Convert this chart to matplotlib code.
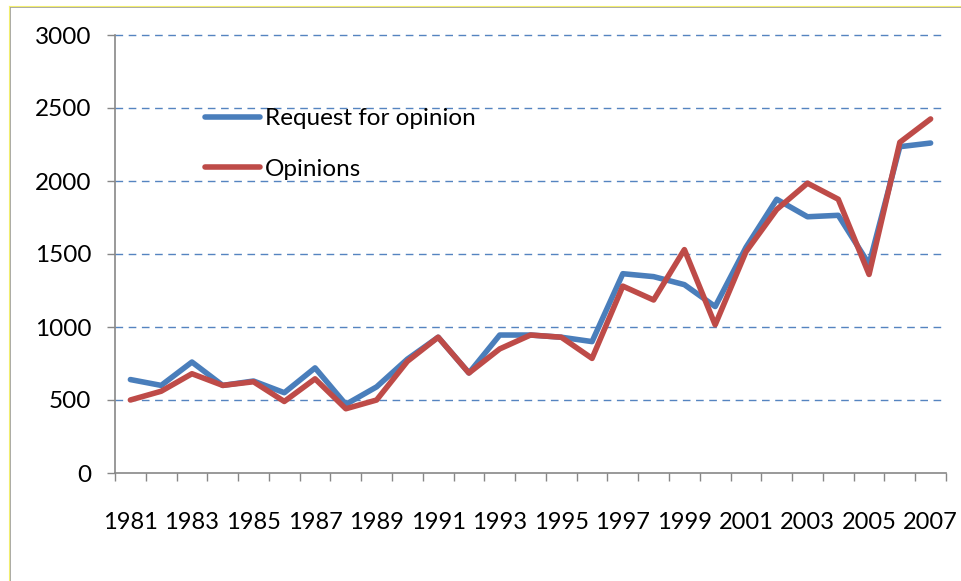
import numpy as np
import matplotlib.pyplot as plt
from matplotlib.lines import Line2D

years = list(range(1981, 2008))
request = [640, 600, 760, 600, 630, 550, 720, 470, 590, 780, 930, 685, 945, 945, 930, 900,
           1365, 1345, 1290, 1140, 1545, 1875, 1755, 1765, 1430, 2235, 2260]
opinions = [500, 560, 680, 600, 625, 490, 645, 440, 500, 765, 930, 685, 850, 945, 930, 785,
            1280, 1185, 1530, 1015, 1515, 1805, 1985, 1875, 1360, 2265, 2425]
yticks = [0, 500, 1000, 1500, 2000, 2500, 3000]

plt.rcParams['font.family'] = ['Lato', 'DejaVu Sans']

fig = plt.figure(figsize=(9.62, 5.81), dpi=100)
ax = fig.add_axes([115/962, 1 - 473/581, (946 - 115)/962, (473 - 35)/581])

x = np.arange(len(years))
ax.plot(x, request, color='#4a7ebb', lw=4, solid_capstyle='round', solid_joinstyle='round',
        label='Request for opinion', zorder=3)
ax.plot(x, opinions, color='#be4b48', lw=4, solid_capstyle='round', solid_joinstyle='round',
        label='Opinions', zorder=4)

ax.set_xlim(-0.5, len(years) - 0.5)
ax.set_ylim(0, 3000)

# category axis: labels on every other year, tick marks between categories
ax.set_xticks(x[::2])
ax.set_xticklabels([str(y) for y in years[::2]], fontsize=17)
ax.set_xticks(np.arange(-0.5, len(years), 1), minor=True)
ax.tick_params(axis='x', which='major', length=0, pad=28)
ax.tick_params(axis='x', which='minor', length=6, width=1, color='#878787', direction='out')

ax.set_yticks(yticks)
ax.set_yticklabels([str(v) for v in yticks], fontsize=17.5)
ax.tick_params(axis='y', length=6, width=1, color='#878787', pad=11)

for v in yticks[1:]:
    ax.axhline(v, color='#5584c0', lw=1, linestyle=(0, (5.5, 4)), zorder=1, clip_on=False)

for s in ['top', 'right']:
    ax.spines[s].set_visible(False)
for s in ['left', 'bottom']:
    ax.spines[s].set_color('#878787')
    ax.spines[s].set_linewidth(1.2)

leg = ax.legend(loc='upper left', bbox_to_anchor=(0.097, 0.855), frameon=False, fontsize=17.5,
                handlelength=2.25, handletextpad=0.2, labelspacing=1.22, borderaxespad=0)

# outer chart border (cropped)
fig.add_artist(Line2D([10/962, 10/962], [0, 1 - 7/581], color='#9a9a9a', lw=1.2, transform=fig.transFigure))
fig.add_artist(Line2D([10/962, 1], [1 - 7/581, 1 - 7/581], color='#9a9a9a', lw=1.2, transform=fig.transFigure))
fig.add_artist(Line2D([8.5/962, 1], [1 - 5.5/581, 1 - 5.5/581], color='#f2ee70', lw=0.8, transform=fig.transFigure))
fig.add_artist(Line2D([8.5/962, 8.5/962], [0, 1 - 5.5/581], color='#f2ee70', lw=0.8, transform=fig.transFigure))

fig.savefig('out.png', dpi=100)
